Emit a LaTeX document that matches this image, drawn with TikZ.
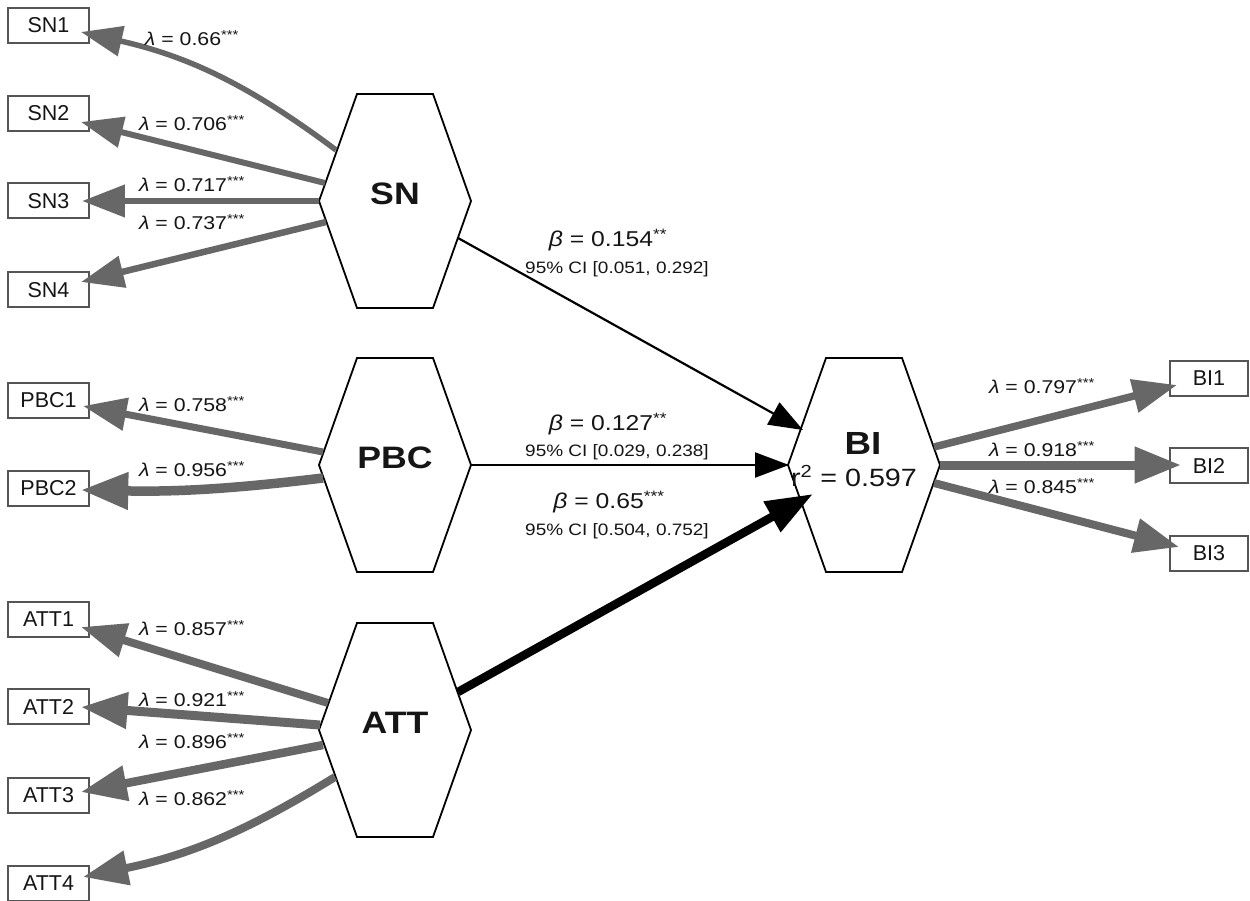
\documentclass[tikz,border=0pt]{standalone}
\usepackage{fontspec}
\setmainfont{Liberation Sans}
\newfontfamily\stf[FakeStretch=1.15]{Liberation Sans}
\usetikzlibrary{arrows.meta,calc}
\definecolor{arrowgray}{HTML}{676767}
\definecolor{boxgray}{HTML}{555555}
\definecolor{txt}{HTML}{151515}
\newcommand{\myhex}[4]{%
  \draw[hexline] ($(#2,#3)+(-76,0)$) -- ++(38,-107) -- ++(76,0) -- ++(38,107) -- ++(-38,107) -- ++(-76,0) -- cycle;
  \node[hexlab] (#1) at (#2,#3) {#4};}
\begin{document}
\begin{tikzpicture}[x=1pt,y=-1pt,
  hexline/.style={draw=black,line width=1.8pt,fill=white,line join=miter},
  hexlab/.style={inner sep=0pt,font=\stf\bfseries\fontsize{31}{31}\selectfont,text=txt,text height=0.72em,text depth=0pt},
  indbox/.style={draw=boxgray,line width=2pt,fill=white,minimum width=81pt,minimum height=35pt,inner sep=0pt,font=\fontsize{21.5}{22}\selectfont,text=txt},
  lamlab/.style={inner sep=0pt,font=\stf\fontsize{18.5}{19}\selectfont,text=txt,text height=0.72em,text depth=0pt},
  betalab/.style={inner sep=0pt,font=\stf\fontsize{21.5}{22}\selectfont,text=txt,text height=0.72em,text depth=0pt},
  cilab/.style={inner sep=0pt,font=\stf\fontsize{16.5}{17}\selectfont,text=txt,text height=0.72em,text depth=0pt},
  ldarrow/.style={draw=arrowgray,line width=#1,-{Triangle[length=33pt 1.5,width=22pt 1.4]}},
  patharrow/.style={draw=black,line width=#1,-{Triangle[length=34pt,width=25pt]}},
  bigarrow/.style={draw=black,line width=#1,-{Triangle[length=47pt,width=33pt]}}
]
\useasboundingbox (0,0) rectangle (1250,901);
\fill[white] (0,0) rectangle (1250,901);

% indicator boxes
\node[indbox] (sn1) at (48.5,25.5) {SN1};
\node[indbox] (sn2) at (48.5,113.5) {SN2};
\node[indbox] (sn3) at (48.5,201) {SN3};
\node[indbox] (sn4) at (48.5,290) {SN4};
\node[indbox] (pbc1) at (48.5,400) {PBC1};
\node[indbox] (pbc2) at (48.5,488.5) {PBC2};
\node[indbox] (att1) at (48.5,619.5) {ATT1};
\node[indbox] (att2) at (48.5,706.5) {ATT2};
\node[indbox] (att3) at (48.5,795.5) {ATT3};
\node[indbox] (att4) at (48.5,883) {ATT4};
\node[indbox,minimum width=78pt] (bi1) at (1209,378) {BI1};
\node[indbox,minimum width=78pt] (bi2) at (1209,465.5) {BI2};
\node[indbox,minimum width=78pt] (bi3) at (1209,553.5) {BI3};

% hexagons
\myhex{sn}{395}{201}{SN}
\myhex{pbc}{395}{465}{PBC}
\myhex{att}{395}{730}{ATT}
\myhex{bi}{864}{465}{}
\node[hexlab,font=\stf\bfseries\fontsize{32}{32}\selectfont] (bilab) at (863,451) {BI};
\node[betalab,font=\stf\fontsize{25}{25}\selectfont] (bir2) at (854,483) {r\textsuperscript{2} = 0.597};

% start points on hexagon edges
\coordinate (sna1) at (336,150);
\coordinate (sna2) at (325,183);
\coordinate (sna3) at (319,201);
\coordinate (sna4) at (326,222);
\coordinate (pbca1) at (323,452);
\coordinate (pbca2) at (323,478);
\coordinate (atta1) at (328,703);
\coordinate (atta2) at (320,725);
\coordinate (atta3) at (323,745);
\coordinate (atta4) at (335,777);
\coordinate (bib1) at (934,447);
\coordinate (bib2) at (940,465);
\coordinate (bib3) at (934,483);
\coordinate (sno) at (458,238);
\coordinate (pbco) at (471,465);
\coordinate (atto) at (458,692);

% loadings
\draw[ldarrow=5.5pt] (sna1) to[bend right=12] ($(sn1.east)+(-9,6.5)$);
\draw[ldarrow=6pt] (sna2) -- ($(sn2.east)+(-9,8.5)$);
\draw[ldarrow=6.5pt] (sna3) -- ($(sn3.east)+(-8,0)$);
\draw[ldarrow=6.5pt] (sna4) -- ($(sn4.east)+(-9,-8)$);
\draw[ldarrow=7pt] (pbca1) -- ($(pbc1.east)+(-7,6)$);
\draw[ldarrow=9.5pt] (pbca2) to[bend left=4] ($(pbc2.east)+(-9,1.5)$);
\draw[ldarrow=8pt] (atta1) -- ($(att1.east)+(-9,7.5)$);
\draw[ldarrow=9pt] (atta2) -- ($(att2.east)+(-9,0.5)$);
\draw[ldarrow=8.5pt] (atta3) -- ($(att3.east)+(-9,-3.5)$);
\draw[ldarrow=8pt] (atta4) to[bend left=10] ($(att4.east)+(-7,-6)$);
\draw[ldarrow=7.5pt] (bib1) -- ($(bi1.west)+(8,7)$);
\draw[ldarrow=9pt] (bib2) -- ($(bi2.west)+(12,-0.5)$);
\draw[ldarrow=8pt] (bib3) -- ($(bi3.west)+(10,-6.5)$);

% structural paths
\draw[patharrow=2.2pt] (sno) -- ($(bi.center)+(-61,-35)$);
\draw[patharrow=2.2pt] (pbco) -- ($(bi.center)+(-75,0)$);
\draw[bigarrow=8.5pt] (atto) -- ($(bi.center)+(-51,29)$);

% loading labels
\node[lamlab] (l1) at (192,42) {\itshape λ\upshape{} = 0.66\textsuperscript{***}};
\node[lamlab] (l2) at (192,127) {\itshape λ\upshape{} = 0.706\textsuperscript{***}};
\node[lamlab] (l3) at (192,188) {\itshape λ\upshape{} = 0.717\textsuperscript{***}};
\node[lamlab] (l4) at (192,226) {\itshape λ\upshape{} = 0.737\textsuperscript{***}};
\node[lamlab] (l5) at (192,408) {\itshape λ\upshape{} = 0.758\textsuperscript{***}};
\node[lamlab] (l6) at (192,473) {\itshape λ\upshape{} = 0.956\textsuperscript{***}};
\node[lamlab] (l7) at (192,632) {\itshape λ\upshape{} = 0.857\textsuperscript{***}};
\node[lamlab] (l8) at (192,703) {\itshape λ\upshape{} = 0.921\textsuperscript{***}};
\node[lamlab] (l9) at (192,745) {\itshape λ\upshape{} = 0.896\textsuperscript{***}};
\node[lamlab] (l10) at (192,802) {\itshape λ\upshape{} = 0.862\textsuperscript{***}};
\node[lamlab] (l11) at (1042,390) {\itshape λ\upshape{} = 0.797\textsuperscript{***}};
\node[lamlab] (l12) at (1042,453) {\itshape λ\upshape{} = 0.918\textsuperscript{***}};
\node[lamlab] (l13) at (1042,490) {\itshape λ\upshape{} = 0.845\textsuperscript{***}};

% path labels
\node[betalab] (b1) at (608,243) {\itshape β\upshape{} = 0.154\textsuperscript{**}};
\node[cilab] (c1) at (617,270) {95\% CI [0.051, 0.292]};
\node[betalab] (b2) at (608,427) {\itshape β\upshape{} = 0.127\textsuperscript{**}};
\node[cilab] (c2) at (617,453) {95\% CI [0.029, 0.238]};
\node[betalab] (b3) at (609,505) {\itshape β\upshape{} = 0.65\textsuperscript{***}};
\node[cilab] (c3) at (617,532) {95\% CI [0.504, 0.752]};
\end{tikzpicture}
\end{document}
